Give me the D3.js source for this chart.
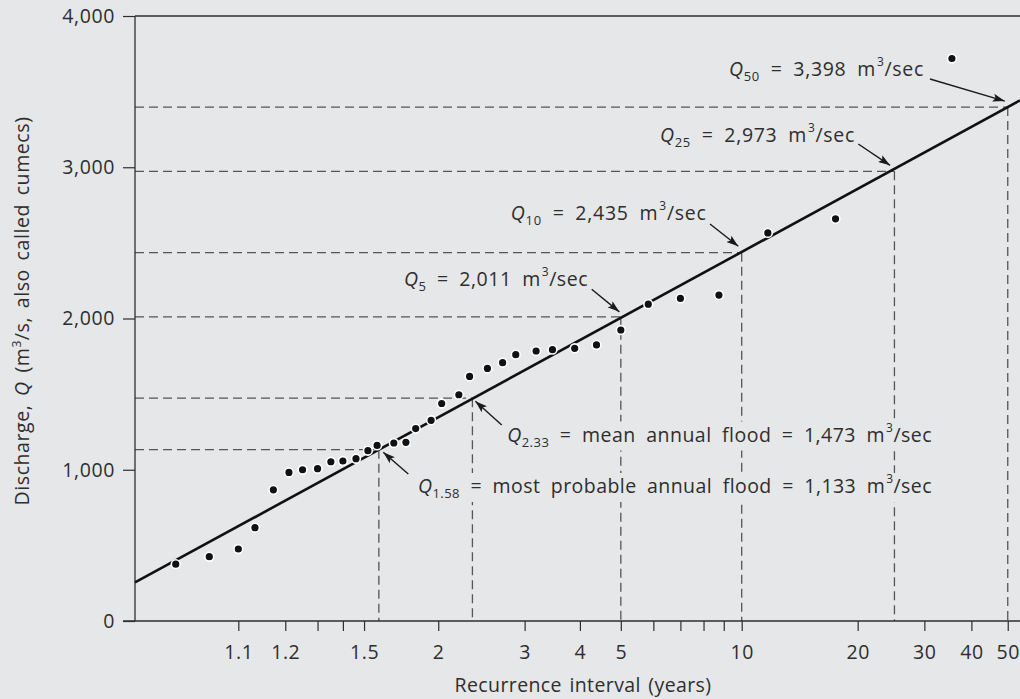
<!DOCTYPE html>
<html><head><meta charset="utf-8">
<script src="https://cdn.jsdelivr.net/npm/d3@7"></script>
<style>
html,body{margin:0;padding:0;background:#e6e7e9;}
svg{display:block;font-family:"Open Sans",Lato,sans-serif;}
</style></head><body>
<svg id="chart" width="1020" height="699"></svg>
<script>
// ---- data ----
const recurrence = [35.5, 17.5, 11.67, 8.75, 7, 5.83, 5, 4.375, 3.89, 3.46, 3.18, 2.87, 2.69, 2.5, 2.30, 2.19, 2.03, 1.94, 1.82, 1.75, 1.67, 1.57, 1.52, 1.46, 1.40, 1.35, 1.30, 1.25, 1.21, 1.17, 1.13, 1.10, 1.06, 1.03];
const discharge  = [3719, 2659, 2566, 2155, 2133, 2095, 1924, 1825, 1803, 1794, 1785, 1761, 1708, 1670, 1617, 1496, 1438, 1327, 1272, 1181, 1177, 1161, 1126, 1073, 1058, 1053, 1007, 1000, 982, 867, 617, 476, 425, 376];
const xTickValues = [1.1, 1.2, 1.5, 2, 3, 4, 5, 10, 20, 30, 40, 50];
const xTickLabels = ["1.1", "1.2", "1.5", "2", "3", "4", "5", "10", "20", "30", "40", "50"];
const xMinorTicks = [1.3, 1.4, 6, 7, 8, 9];
const yTickValues = [0, 1000, 2000, 3000, 4000];
const yTickLabels = ["0", "1,000", "2,000", "3,000", "4,000"];
const estT   = [1.58, 2.33, 5, 10, 25, 50];
const estQ   = [1133, 1473, 2011, 2435, 2973, 3398];
const estSub = ["1.58", "2.33", "5", "10", "25", "50"];
const estMid = [" = most probable annual flood = 1,133 m", " = mean annual flood = 1,473 m", " = 2,011 m", " = 2,435 m", " = 2,973 m", " = 3,398 m"];

// ---- layout ----
const W = 1020, H = 699;
const pLeft = 135, pRight = 1020, pTop = 16, pBottom = 621;
const gumbel = T => -Math.log(-Math.log(1 - 1 / T));
const gMin = -1.516, gMax = 3.978;
const xs = d3.scaleLinear().domain([gMin, gMax]).range([pLeft, pRight]);
const x = T => xs(gumbel(T));
const y = d3.scaleLinear().domain([0, 4000]).range([pBottom, pTop]);

const svg = d3.select("#chart");
const ink = "#2e2e2e";
const bgCol = "#e6e7e9";
svg.append("rect").attr("width", W).attr("height", H).attr("fill", bgCol);

// stretch a text's tracking so it spans a target width
function fitWidth(sel, target) {
  const node = sel.node();
  const w0 = node.getBBox().width;
  const n = node.textContent.length;
  sel.attr("letter-spacing", ((target - w0) / n).toFixed(2));
}

svg.append("defs").append("marker")
  .attr("id", "ah").attr("viewBox", "0 0 12 8").attr("refX", 12).attr("refY", 4)
  .attr("markerWidth", 12).attr("markerHeight", 8).attr("markerUnits", "userSpaceOnUse")
  .attr("orient", "auto")
  .append("path").attr("d", "M0,0 L12,4 L0,8 L2.5,4 Z").attr("fill", "#1a1a1a");

// dashed guide lines
const guides = svg.append("g").attr("stroke", "#555").attr("stroke-width", 1.3).attr("fill", "none")
  .attr("stroke-dasharray", "9,5");
estT.forEach((T, i) => {
  guides.append("line").attr("x1", pLeft).attr("x2", x(T)).attr("y1", y(estQ[i])).attr("y2", y(estQ[i]));
  guides.append("line").attr("x1", x(T)).attr("x2", x(T)).attr("y1", y(estQ[i])).attr("y2", pBottom);
});

// axes
const axisX = d3.axisBottom(xs)
  .tickValues(xTickValues.map(gumbel))
  .tickFormat((d, i) => xTickLabels[i]).tickSize(10).tickPadding(14);
const gx = svg.append("g").attr("transform", `translate(0,${pBottom})`).call(axisX);
gx.select(".domain").remove();
gx.append("line").attr("x1", pLeft - 12).attr("x2", pRight).attr("stroke", ink).attr("stroke-width", 1.3);
gx.selectAll(".tick line").attr("stroke", ink).attr("stroke-width", 1.2);
gx.selectAll(".tick text").attr("fill", ink).attr("font-size", 19.5).attr("letter-spacing", 0.6)
  .attr("font-family", "'Open Sans', sans-serif");
const gxm = svg.append("g").attr("transform", `translate(0,${pBottom})`).call(
  d3.axisBottom(xs).tickValues(xMinorTicks.map(gumbel)).tickFormat("").tickSize(10));
gxm.select(".domain").remove();
gxm.selectAll(".tick line").attr("stroke", ink).attr("stroke-width", 1.2);

const axisY = d3.axisLeft(y).tickValues(yTickValues).tickFormat((d, i) => yTickLabels[i]).tickSize(12).tickPadding(8);
const gy = svg.append("g").attr("transform", `translate(${pLeft},0)`).call(axisY);
gy.select(".domain").remove();
gy.append("line").attr("y1", pTop).attr("y2", pBottom).attr("stroke", ink).attr("stroke-width", 1.3);
gy.selectAll(".tick line").attr("stroke", ink).attr("stroke-width", 1.2);
gy.selectAll(".tick text").attr("fill", ink).attr("font-size", 19.5).attr("letter-spacing", 0.6)
  .attr("font-family", "'Open Sans', sans-serif");
svg.append("line").attr("x1", pLeft).attr("x2", pRight).attr("y1", pTop).attr("y2", pTop)
  .attr("stroke", ink).attr("stroke-width", 1.3);

// axis titles
const xt = svg.append("text").attr("x", 583).attr("y", 692).attr("text-anchor", "middle")
  .attr("font-size", 19.5).attr("word-spacing", 2).attr("fill", ink).text("Recurrence interval (years)");
fitWidth(xt, 257);
const yt = svg.append("text").attr("transform", "translate(29,311) rotate(-90)")
  .attr("text-anchor", "middle").attr("font-size", 19.5).attr("word-spacing", 3).attr("fill", ink);
yt.append("tspan").text("Discharge, ");
yt.append("tspan").attr("font-style", "italic").text("Q");
yt.append("tspan").text(" (m");
yt.append("tspan").attr("font-size", 12).attr("dy", -8).text("3");
yt.append("tspan").attr("dy", 8).text("/s, also called cumecs)");
fitWidth(yt, 389);

// fitted line (straight in Gumbel reduced variate)
const g1 = gumbel(estT[0]), g2 = gumbel(estT[estT.length - 1]);
const slope = (estQ[estQ.length - 1] - estQ[0]) / (g2 - g1);
const qAt = g => estQ[0] + slope * (g - g1);
svg.append("line").attr("x1", xs(gMin)).attr("y1", y(qAt(gMin)))
  .attr("x2", xs(gMax)).attr("y2", y(qAt(gMax)))
  .attr("stroke", "#111").attr("stroke-width", 2.6);

// data points
svg.append("g").selectAll("circle").data(recurrence).join("circle")
  .attr("cx", d => x(d)).attr("cy", (d, i) => y(discharge[i])).attr("r", 4.4)
  .attr("fill", "#111").attr("stroke", "#fff").attr("stroke-width", 1.6);

// annotations: [label x, baseline y, anchor, target width, arrow start x, y, tip dx, dy]
const annLayout = [
  [932, 493, "end", 514, 408.3, 474, 4.4, 2.7],
  [932, 441.5, "end", 425, 501.7, 425, 3, 3],
  [404, 286, "start", 184, 591.7, 289.3, -1.5, -5],
  [510.7, 219.5, "start", 196, 710, 224, -3.4, -6.4],
  [660, 141.7, "start", 195, 858.3, 144, -4.4, -6],
  [729, 76, "start", 195, 930, 79, -3, -6]
];
const annG = svg.append("g");
estT.forEach((T, i) => {
  const L = annLayout[i];
  annG.append("line").attr("x1", L[4]).attr("y1", L[5])
    .attr("x2", x(T) + L[6]).attr("y2", y(estQ[i]) + L[7])
    .attr("stroke", "#1a1a1a").attr("stroke-width", 1.4).attr("marker-end", "url(#ah)");
  const bg = annG.append("rect").attr("fill", bgCol);
  const t = annG.append("text").attr("x", L[0]).attr("y", L[1]).attr("text-anchor", L[2])
    .attr("font-size", 19.5).attr("word-spacing", 5).attr("fill", ink);
  t.append("tspan").attr("font-style", "italic").text("Q");
  t.append("tspan").attr("font-size", 13).attr("dy", 5).text(estSub[i]);
  t.append("tspan").attr("dy", -5).text(estMid[i]);
  t.append("tspan").attr("font-size", 12).attr("dy", -10).attr("dx", 1).text("3");
  t.append("tspan").attr("dy", 10).text("/sec");
  fitWidth(t, L[3]);
  const b = t.node().getBBox();
  bg.attr("x", b.x - 2).attr("y", b.y + 3).attr("width", b.width + 4).attr("height", b.height - 3);
});
</script>
</body></html>
